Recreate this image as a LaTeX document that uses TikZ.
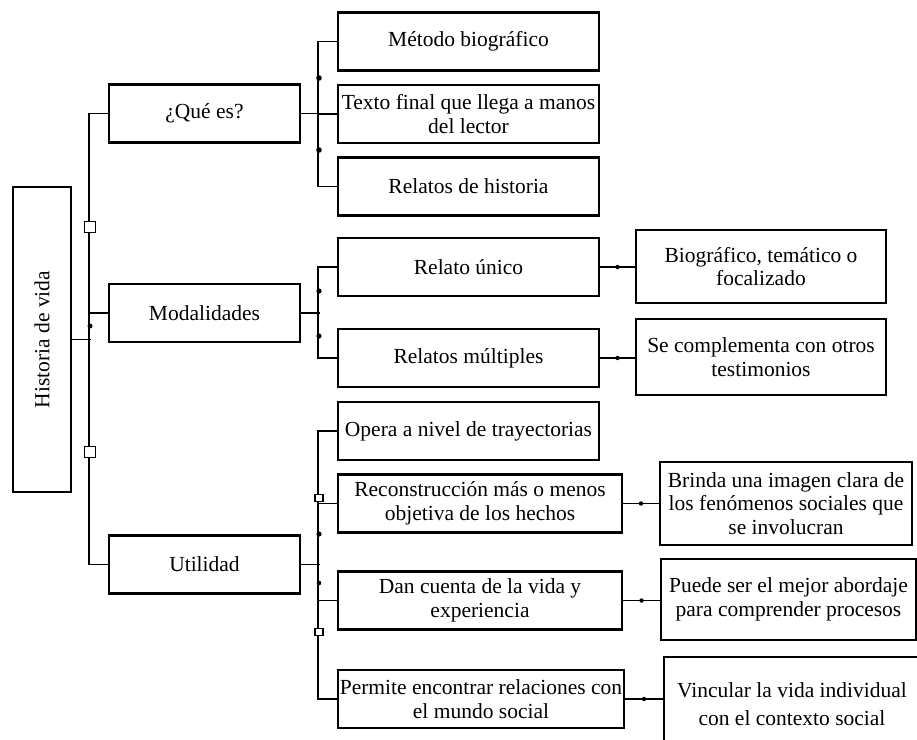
\documentclass[tikz,border=0pt]{standalone}
\usepackage{fontspec}
\setmainfont{Liberation Serif}
\begin{document}
\begin{tikzpicture}[x=1pt,y=-1pt,
  box/.style={draw, line width=2.2pt, inner sep=0pt, align=center,
    font=\fontsize{21.5}{23.5}\selectfont, minimum height=58pt},
  lvl1/.style={box, minimum width=191pt},
  lvl2/.style={box, minimum width=261pt},
  lvl2w/.style={box, minimum width=284pt},
  frame/.style={draw, line width=2.2pt, inner sep=0pt},
  txt/.style={inner sep=0pt, align=center, font=\fontsize{21.5}{23.5}\selectfont},
  link/.style={line width=1.9pt},
  stub/.style={line width=1.4pt},
  bigdot/.style={fill=black},
  knot/.style={draw, line width=1.5pt, fill=white}
]
\useasboundingbox (0,0) rectangle (917,739);

% root
\node[box, minimum width=58pt, minimum height=305pt] (root) at (42,339.5)
  {\rotatebox{90}{Historia de vida}};

% first level
\node[lvl1] (q)   at (204.5,113.5) {¿Qué es?};
\node[lvl1] (mod) at (204.5,313)   {Modalidades};
\node[lvl1] (uti) at (204.5,564.5) {Utilidad};

% second level
\node[lvl2] (m1) at (468.5,41.5)  {Método biográfico};
\node[lvl2] (m2) at (468.5,114)   {Texto final que llega a manos\\del lector};
\node[lvl2] (m3) at (468.5,186.5) {Relatos de historia};

\node[lvl2] (r1) at (468.5,267) {Relato único};
\node[lvl2] (r2) at (468.5,358) {Relatos múltiples};

\node[lvl2]  (u1) at (468.5,431)   {Opera a nivel de trayectorias};
\node[lvl2w] (u2) at (480,503.5)   {Reconstrucción más o menos\\objetiva de los hechos};
\node[lvl2w] (u3) at (480,600.5)   {Dan cuenta de la vida y\\experiencia};
\node[box, minimum width=286pt] (u4) at (481,699) {Permite encontrar relaciones con\\el mundo social};

% third level
\node[box, minimum width=250pt, minimum height=73pt] (b1) at (761,266.5)
  {Biográfico, temático o\\focalizado};
\node[box, minimum width=250pt, minimum height=76pt] (b2) at (761,357)
  {Se complementa con otros\\testimonios};
\node[box, minimum width=252pt, minimum height=83pt] (c1) at (786,503.5)
  {Brinda una imagen clara de\\los fenómenos sociales que\\se involucran};
\node[box, minimum width=255pt, minimum height=81pt] (c2) at (788.5,599.5)
  {Puede ser el mejor abordaje\\para comprender procesos};
\node[frame, anchor=north west, minimum width=258pt, minimum height=100pt] (c3) at (663,656) {};
\node[txt] (c3t) at (792,704) {Vincular la vida individual\\[5pt]con el contexto social};

% main trunk
\draw[link] (q.west) -- ++(-19,0) |- (uti.west);
\draw[link] (mod.west) -- ++(-19,0);
\draw[link] (root.east) -- ++(19,0);
\fill[bigdot] (90,326) circle (2.5pt);
\draw[knot] (84.5,221.5) rectangle ++(11,11);
\draw[knot] (84.5,446.5) rectangle ++(11,11);

% group: ¿Qué es?
\draw[link] (q.east) -- ++(19,0);
\draw[link] (m1.west) -- ++(-19,0) |- (m3.west);
\draw[stub] (m2.west) -- ++(-19,0);
\fill[bigdot] (319,78) circle (2.8pt);
\fill[bigdot] (319,150) circle (2.8pt);

% group: Modalidades
\draw[link] (mod.east) -- ++(19,0);
\draw[link] (r1.west) -- ++(-19,0) |- (r2.west);
\fill[bigdot] (319,291) circle (2.6pt);
\fill[bigdot] (319,336) circle (2.6pt);

% group: Utilidad
\draw[link] (uti.east) -- ++(19,0);
\draw[link] (u1.west) -- ++(-19,0) |- (u4.west);
\draw[stub] (u2.west) -- ++(-19,0);
\draw[stub] (u3.west) -- ++(-19,0);
\fill[bigdot] (319,534) circle (2.6pt);
\fill[bigdot] (319,583) circle (2.3pt);
\draw[knot, line width=1.3pt] (315,494.5) rectangle ++(8,7);
\draw[knot, line width=1.3pt] (315,628.5) rectangle ++(8,7);

% third-level links, each with a small dot halfway
\draw[link] (r1.east) -- (r1.east -| b1.west) coordinate[pos=0.5] (d1);
\draw[link] (r2.east) -- (r2.east -| b2.west) coordinate[pos=0.5] (d2);
\draw[link] (u2.east) -- (u2.east -| c1.west) coordinate[pos=0.5] (d3);
\draw[link] (u3.east) -- (u3.east -| c2.west) coordinate[pos=0.5] (d4);
\draw[link] (u4.east) -- (u4.east -| c3.west) coordinate[pos=0.5] (d5);
\foreach \d in {d1,d2,d3,d4,d5} \fill[bigdot] (\d) circle (2.2pt);
\end{tikzpicture}
\end{document}
